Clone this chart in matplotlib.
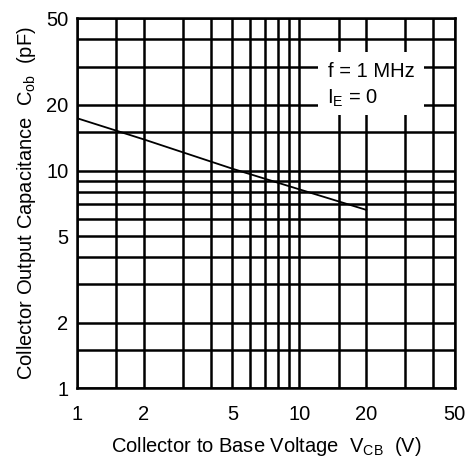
import matplotlib
matplotlib.use("Agg")
import matplotlib.pyplot as plt
from matplotlib.patches import Rectangle

# Data
v_cb = [1, 2, 5, 10, 20]
c_ob = [17.4, 13.9, 10.2, 8.2, 6.6]

x_major = [1, 2, 5, 10, 20, 50]
x_major_labels = ["1", "2", "5", "10", "20", "50"]
x_minor = [1.5, 3, 4, 6, 7, 8, 9, 15, 30, 40]
y_major = [1, 2, 5, 10, 20, 50]
y_major_labels = ["1", "2", "5", "10", "20", "50"]
y_minor = [1.5, 3, 4, 6, 7, 8, 9, 15, 30, 40]

plt.rcParams['font.family'] = ['Liberation Sans', 'DejaVu Sans']
FS = 14.5

fig = plt.figure(figsize=(4.66, 4.57), dpi=100)
ax = fig.add_axes([0.165, 0.150, 0.811, 0.810])
ax.set_xscale('log')
ax.set_yscale('log')
ax.set_xlim(1, 50)
ax.set_ylim(1, 50)

ax.set_xticks(x_major)
ax.set_xticklabels(x_major_labels)
ax.set_xticks(x_minor, minor=True)
ax.set_xticklabels([], minor=True)
ax.set_yticks(y_major)
ax.set_yticklabels(y_major_labels)
ax.set_yticks(y_minor, minor=True)
ax.set_yticklabels([], minor=True)

ax.tick_params(which='both', length=0)
ax.tick_params(axis='x', which='major', pad=12, labelsize=FS)
ax.tick_params(axis='y', which='major', pad=6, labelsize=FS)

ax.grid(True, which='both', color='black', linewidth=1.8, zorder=1)
ax.set_axisbelow(True)
for s in ax.spines.values():
    s.set_linewidth(1.8)

# white box for annotation
ax.add_patch(Rectangle((12.1, 18.0), 36.3 - 12.1, 35.0 - 18.0,
                       facecolor='white', edgecolor='none', zorder=2))
ax.text(21.1, 28.4, "f = 1 MHz", fontsize=FS, ha='center', va='center', zorder=3)
ax.text(13.3, 21.5, r"I$_\mathregular{E}$ = 0", fontsize=FS, ha='left', va='center', zorder=3)

ax.plot(v_cb, c_ob, color='black', linewidth=1.3, zorder=4)

ax.set_xlabel(r"Collector to Base Voltage  V$_\mathregular{CB}$  (V)", fontsize=FS, labelpad=8)
ax.set_ylabel(r"Collector Output Capacitance  C$_\mathregular{ob}$  (pF)", fontsize=FS, labelpad=6)

fig.savefig("out.png", dpi=100)
